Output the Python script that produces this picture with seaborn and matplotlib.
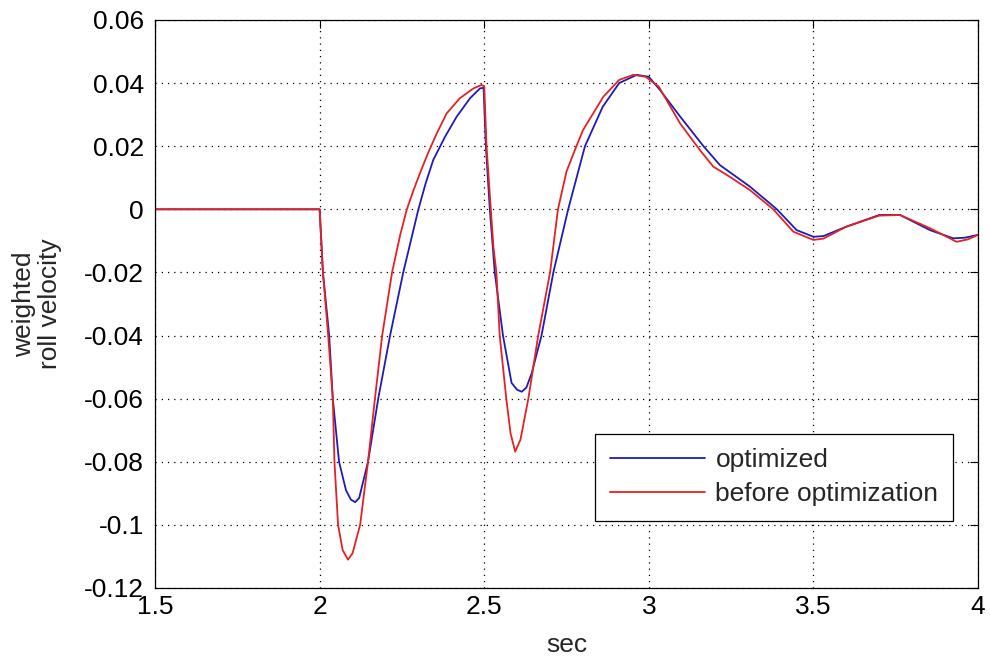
import matplotlib
matplotlib.use("Agg")
import matplotlib.pyplot as plt
import seaborn as sns
import pandas as pd

# ---- data ----
opt_x = [1.5, 2.0, 2.01, 2.029, 2.04, 2.059, 2.08, 2.095, 2.108, 2.12, 2.147, 2.178,
         2.214, 2.254, 2.30, 2.322, 2.345, 2.381, 2.416, 2.457, 2.487, 2.498, 2.505,
         2.517, 2.532, 2.557, 2.583, 2.60, 2.614, 2.628, 2.644, 2.674, 2.71, 2.755,
         2.806, 2.86, 2.91, 2.963, 3.0, 3.034, 3.095, 3.166, 3.216, 3.307, 3.389,
         3.449, 3.5, 3.53, 3.60, 3.70, 3.763, 3.854, 3.925, 3.96, 4.0]
opt_y = [0, 0, -0.02, -0.04, -0.06, -0.08, -0.089, -0.0920, -0.0928, -0.0915, -0.08, -0.06,
         -0.04, -0.02, 0, 0.0082, 0.0156, 0.023, 0.0293, 0.0352, 0.0383, 0.0385, 0.02,
         0, -0.02, -0.04, -0.055, -0.0572, -0.0578, -0.0565, -0.052, -0.04, -0.02, 0,
         0.02, 0.0325, 0.040, 0.0426, 0.042, 0.0378, 0.0294, 0.02, 0.014, 0.0072, 0,
         -0.0066, -0.0087, -0.0085, -0.0055, -0.0018, -0.0018, -0.0066, -0.0092, -0.009, -0.0081]

bef_x = [1.5, 2.0, 2.01, 2.026, 2.04, 2.045, 2.056, 2.07, 2.086, 2.10, 2.123, 2.147,
         2.168, 2.19, 2.22, 2.245, 2.265, 2.285, 2.305, 2.33, 2.356, 2.386, 2.426, 2.467, 2.492,
         2.50, 2.507, 2.52, 2.528, 2.537, 2.547, 2.567, 2.58, 2.594, 2.61, 2.634, 2.664,
         2.70, 2.724, 2.75, 2.78, 2.80, 2.862, 2.91, 2.953, 2.99, 3.03, 3.095, 3.155,
         3.196, 3.237, 3.307, 3.378, 3.439, 3.5, 3.53, 3.60, 3.70, 3.763, 3.854, 3.935,
         3.97, 4.0]
bef_y = [0, 0, -0.02, -0.04, -0.06, -0.08, -0.1, -0.108, -0.111, -0.109, -0.1, -0.08,
         -0.06, -0.04, -0.02, -0.008, 0.0, 0.006, 0.0115, 0.018, 0.0241, 0.0304, 0.0352, 0.0383, 0.0394,
         0.039, 0.02, 0, -0.012, -0.02, -0.04, -0.06, -0.071, -0.0768, -0.073, -0.06, -0.04,
         -0.02, 0, 0.012, 0.02, 0.0251, 0.0357, 0.041, 0.0426, 0.042, 0.0389, 0.0272, 0.0188,
         0.0135, 0.0109, 0.0061, 0, -0.0071, -0.0097, -0.0093, -0.0055, -0.002, -0.0018, -0.006, -0.0103,
         -0.0095, -0.0081]

series_names = ["optimized", "before optimization"]
x_ticks = [1.5, 2, 2.5, 3, 3.5, 4]
x_tick_labels = ["1.5", "2", "2.5", "3", "3.5", "4"]
y_ticks = [-0.12, -0.1, -0.08, -0.06, -0.04, -0.02, 0, 0.02, 0.04, 0.06]
y_tick_labels = ["-0.12", "-0.1", "-0.08", "-0.06", "-0.04", "-0.02", "0", "0.02", "0.04", "0.06"]

df = pd.concat([
    pd.DataFrame({"t": opt_x, "v": opt_y, "series": series_names[0]}),
    pd.DataFrame({"t": bef_x, "v": bef_y, "series": series_names[1]}),
])

sns.set_theme(style="white")
plt.rcParams["font.family"] = ["Liberation Sans", "DejaVu Sans"]

FS = 19

fig = plt.figure(figsize=(9.9, 6.65), dpi=100)
ax = fig.add_axes([0.1566, 0.1158, 0.8313, 0.8542])

sns.lineplot(data=df, x="t", y="v", hue="series", hue_order=series_names,
             palette={"optimized": "#1c1cb8", "before optimization": "#e52222"},
             sort=False, estimator=None, linewidth=1.3, ax=ax)

ax.set_xlim(1.5, 4)
ax.set_ylim(-0.12, 0.06)
ax.set_xticks(x_ticks)
ax.set_xticklabels(x_tick_labels)
ax.set_yticks(y_ticks)
ax.set_yticklabels(y_tick_labels)
ax.tick_params(axis="both", direction="in", length=6, width=0.8, labelsize=FS,
               top=True, right=True, colors="black")
ax.tick_params(axis="y", pad=8)
ax.tick_params(axis="x", pad=5)
ax.grid(True, linestyle=(0, (1, 4)), color="black", linewidth=0.9)
for s in ax.spines.values():
    s.set_color("black")
    s.set_linewidth(0.9)

ax.set_xlabel("sec", fontsize=FS, labelpad=10)
ax.set_ylabel("weighted\nroll velocity", fontsize=FS, labelpad=16, linespacing=1.1)

leg = ax.legend(loc="lower right", bbox_to_anchor=(0.9696, 0.118), borderaxespad=0,
                fontsize=FS, frameon=True, fancybox=False, edgecolor="black", framealpha=1,
                handlelength=3.6, handletextpad=0.4, borderpad=0.55, labelspacing=0.38)
leg.get_frame().set_linewidth(0.9)

fig.savefig("out.png", dpi=100)
